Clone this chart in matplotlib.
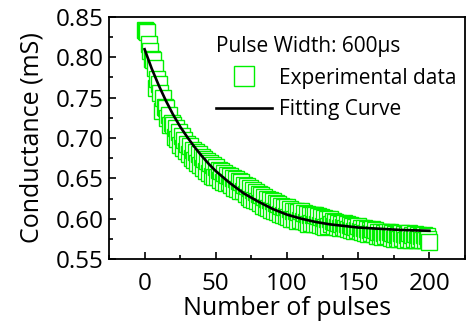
import numpy as np
import matplotlib
matplotlib.use("Agg")
import matplotlib.pyplot as plt
from matplotlib.ticker import MultipleLocator, FormatStrFormatter

plt.rcParams['font.family'] = ['Open Sans', 'DejaVu Sans']

# measured conductance, one value per pulse (0..200)
pulses = np.arange(0, 201)
conductance = [
    0.834, 0.833, 0.832, 0.817, 0.808, 0.798, 0.797, 0.787, 0.762, 0.773,
    0.767, 0.756, 0.733, 0.750, 0.738, 0.737, 0.725, 0.728, 0.716, 0.718,
    0.716, 0.701, 0.713, 0.699, 0.707, 0.691, 0.703, 0.688, 0.697, 0.684,
    0.692, 0.680, 0.690, 0.675, 0.685, 0.673, 0.683, 0.669, 0.680, 0.666,
    0.677, 0.663, 0.674, 0.659, 0.671, 0.657, 0.669, 0.653, 0.666, 0.652,
    0.664, 0.652, 0.660, 0.648, 0.659, 0.645, 0.657, 0.644, 0.654, 0.645,
    0.653, 0.642, 0.651, 0.638, 0.649, 0.637, 0.647, 0.634, 0.645, 0.634,
    0.642, 0.630, 0.640, 0.627, 0.638, 0.625, 0.635, 0.623, 0.633, 0.622,
    0.631, 0.619, 0.629, 0.616, 0.627, 0.615, 0.625, 0.613, 0.623, 0.611,
    0.622, 0.610, 0.620, 0.608, 0.618, 0.606, 0.616, 0.605, 0.615, 0.603,
    0.614, 0.602, 0.612, 0.600, 0.610, 0.599, 0.609, 0.597, 0.608, 0.598,
    0.609, 0.597, 0.607, 0.596, 0.606, 0.594, 0.605, 0.595, 0.604, 0.593,
    0.605, 0.594, 0.603, 0.592, 0.602, 0.591, 0.601, 0.590, 0.600, 0.591,
    0.599, 0.593, 0.597, 0.591, 0.596, 0.590, 0.595, 0.589, 0.594, 0.590,
    0.595, 0.589, 0.593, 0.587, 0.592, 0.586, 0.591, 0.585, 0.590, 0.586,
    0.591, 0.585, 0.589, 0.583, 0.588, 0.582, 0.587, 0.581, 0.586, 0.582,
    0.587, 0.581, 0.586, 0.579, 0.584, 0.578, 0.583, 0.577, 0.582, 0.578,
    0.584, 0.578, 0.583, 0.576, 0.582, 0.575, 0.581, 0.576, 0.580, 0.575,
    0.582, 0.576, 0.581, 0.574, 0.580, 0.575, 0.582, 0.574, 0.580, 0.575,
    0.581, 0.574, 0.580, 0.575, 0.579, 0.573, 0.580, 0.574, 0.578, 0.575,
    0.571,
]

# fitting curve
fit_x = [0, 5, 10, 15, 20, 25, 30, 35, 40, 45, 50, 60, 70, 80, 90, 100,
         110, 120, 130, 140, 150, 160, 170, 180, 190, 200]
fit_y = [0.810, 0.786, 0.765, 0.746, 0.729, 0.714, 0.701, 0.689, 0.678, 0.668,
         0.659, 0.644, 0.631, 0.621, 0.612, 0.605, 0.600, 0.596, 0.593, 0.591,
         0.589, 0.588, 0.587, 0.586, 0.5855, 0.585]

fig = plt.figure(figsize=(4.67, 3.23), dpi=100)
ax = fig.add_axes([0.2334, 0.1981, 0.7623, 0.7493])

ax.plot(pulses, conductance, ls='none', marker='s', ms=11.5, mfc='white',
        mec='#00f000', mew=1.0, label='Experimental data')
ax.plot(fit_x, fit_y, color='black', lw=1.9, label='Fitting Curve')

ax.set_xlim(-25, 225)
ax.set_ylim(0.55, 0.85)
ax.xaxis.set_major_locator(MultipleLocator(50))
ax.xaxis.set_minor_locator(MultipleLocator(25))
ax.yaxis.set_major_locator(MultipleLocator(0.05))
ax.yaxis.set_minor_locator(MultipleLocator(0.025))
ax.yaxis.set_major_formatter(FormatStrFormatter('%.2f'))
ax.tick_params(which='both', direction='in', width=1.2, labelsize=17.5)
ax.tick_params(which='major', length=5)
ax.tick_params(axis='x', which='major', pad=9)
ax.tick_params(axis='y', which='major', pad=4)
ax.tick_params(which='minor', length=3)
for s in ax.spines.values():
    s.set_linewidth(1.3)

ax.set_xlabel('Number of pulses', fontsize=18, labelpad=0.5)
ax.set_ylabel('Conductance (mS)', fontsize=18, labelpad=8)

leg = ax.legend(title='Pulse Width: 600\u03bcs', loc='upper left',
                bbox_to_anchor=(0.30, 0.92), frameon=False, fontsize=15,
                title_fontsize=15, alignment='left', handlelength=2.7,
                handletextpad=0.35, labelspacing=0.5, borderpad=0,
                borderaxespad=0, markerscale=1.2)

fig.savefig('out.png', dpi=100)
